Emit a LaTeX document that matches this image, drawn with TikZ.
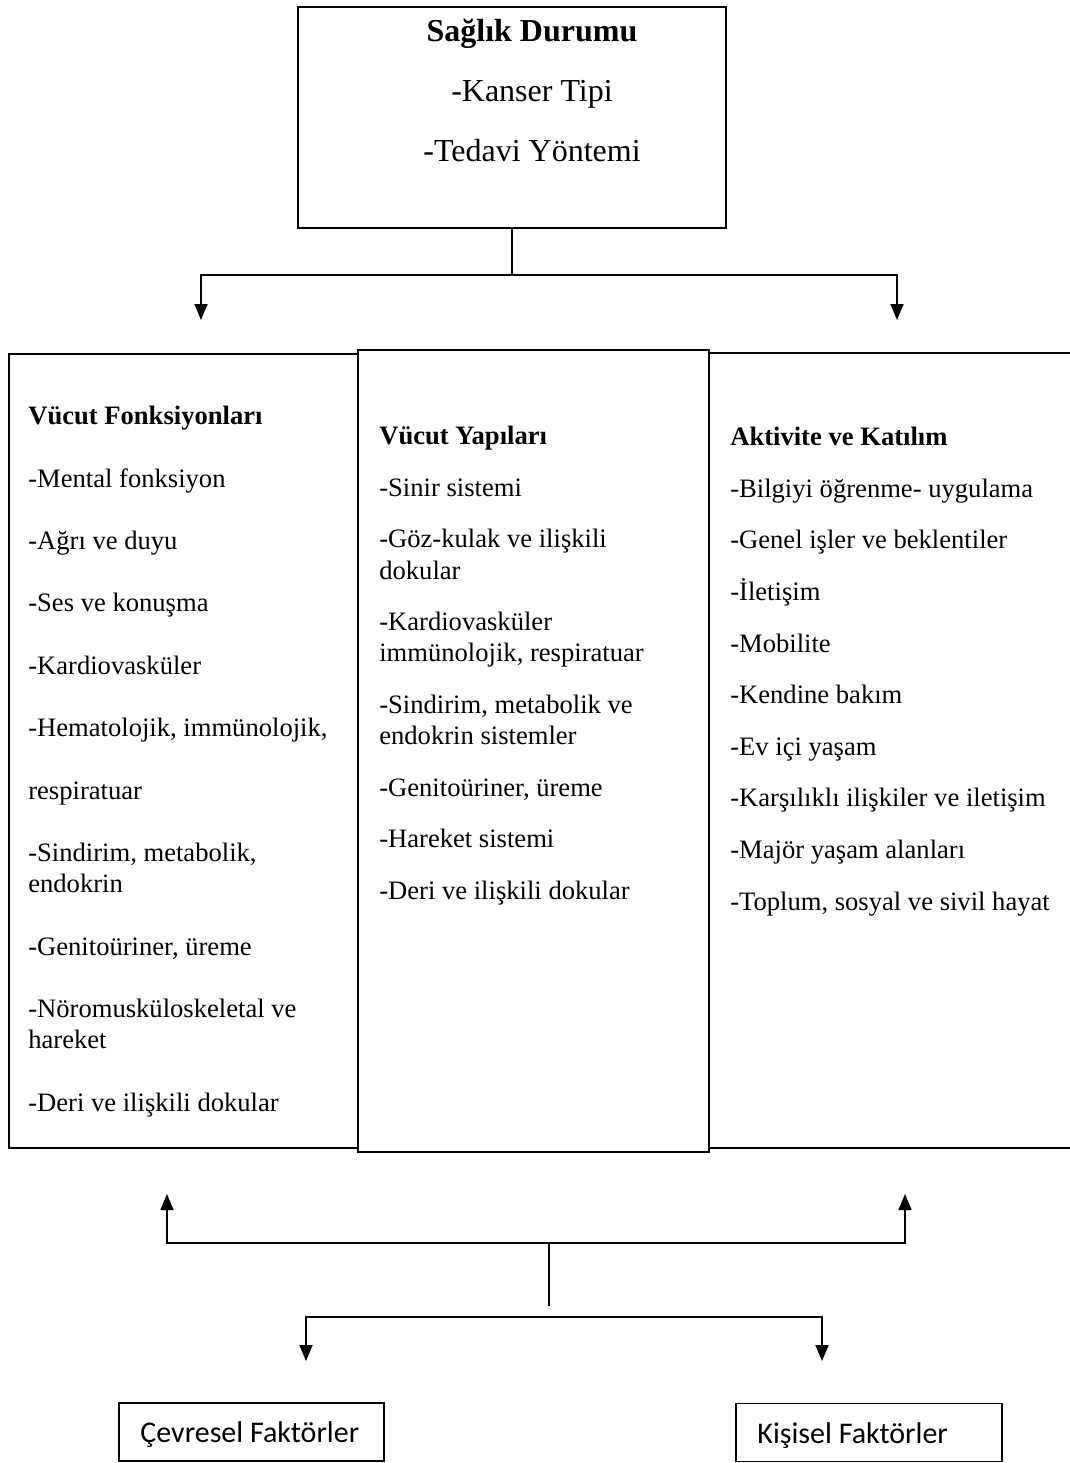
\documentclass[tikz,border=0pt]{standalone}
\usepackage{fontspec}
\setmainfont{Liberation Serif}
\newfontfamily\calibrifont{Carlito}
\usetikzlibrary{arrows.meta,positioning}

\tikzset{
  box/.style={draw, line width=0.8pt, inner sep=0pt},
  column/.style={draw, line width=1.1pt, inner sep=0pt},
  coltext/.style={inner sep=0pt, align=left, font=\fontsize{13.3}{15.6}\selectfont},
  factor/.style={inner sep=0pt, font=\calibrifont\fontsize{15}{18}\selectfont},
  link/.style={line width=0.8pt},
  flow/.style={link, -{Triangle[length=8pt,width=6.5pt]}},
}

\begin{document}
\begin{tikzpicture}[x=0.5pt, y=-0.5pt]
  \clip (0,0) rectangle (1070,1463);

  % health status on top
  \node[box, minimum width=214pt, minimum height=110.5pt] (health) at (512,117.5) {};
  \node[below=6pt of health.north, xshift=10pt, inner sep=0pt, align=center,
        font=\fontsize{16}{30}\selectfont] (healthtxt)
    {\textbf{Sağlık Durumu}\\-Kanser Tipi\\-Tedavi Yöntemi};

  % the three columns
  \node[column, minimum width=174.5pt, minimum height=397pt] (func) at (183.5,751) {};
  \node[column, minimum width=184.5pt, minimum height=397.5pt] (act) at (893.5,750.5) {};
  \node[column, minimum width=175.5pt, minimum height=401pt] (struct) at (533.5,751) {};

  \node[coltext, below right=26.5pt and 10pt of func.north west] (functxt)
    {\textbf{Vücut Fonksiyonları}\\[15.6pt]
     -Mental fonksiyon\\[15.6pt]
     -Ağrı ve duyu\\[15.6pt]
     -Ses ve konuşma\\[15.6pt]
     -Kardiovasküler\\[15.6pt]
     -Hematolojik, immünolojik,\\[15.6pt]
     respiratuar\\[15.6pt]
     -Sindirim, metabolik,\\
     endokrin\\[15.6pt]
     -Genitoüriner, üreme\\[15.6pt]
     -Nöromusküloskeletal ve\\
     hareket\\[15.6pt]
     -Deri ve ilişkili dokular};

  \node[coltext, below right=38.5pt and 11pt of struct.north west] (structtxt)
    {\textbf{Vücut Yapıları}\\[10.2pt]
     -Sinir sistemi\\[10.2pt]
     -Göz-kulak ve ilişkili\\
     dokular\\[10.2pt]
     -Kardiovasküler\\
     immünolojik, respiratuar\\[10.2pt]
     -Sindirim, metabolik ve\\
     endokrin sistemler\\[10.2pt]
     -Genitoüriner, üreme\\[10.2pt]
     -Hareket sistemi\\[10.2pt]
     -Deri ve ilişkili dokular};

  \node[coltext, below right=37.5pt and 11pt of act.north west] (acttxt)
    {\textbf{Aktivite ve Katılım}\\[10.2pt]
     -Bilgiyi öğrenme- uygulama\\[10.2pt]
     -Genel işler ve beklentiler\\[10.2pt]
     -İletişim\\[10.2pt]
     -Mobilite\\[10.2pt]
     -Kendine bakım\\[10.2pt]
     -Ev içi yaşam\\[10.2pt]
     -Karşılıklı ilişkiler ve iletişim\\[10.2pt]
     -Majör yaşam alanları\\[10.2pt]
     -Toplum, sosyal ve sivil hayat};

  % factors at the bottom
  \node[box, line width=0.9pt, minimum width=132.5pt, minimum height=29pt] (env) at (251.5,1432) {};
  \node[box, line width=0.9pt, minimum width=133pt, minimum height=29pt] (pers) at (869,1432.5) {};
  \node[factor, anchor=base west] (envtxt) at (140,1442) {Çevresel Faktörler};
  \node[factor, anchor=base west] (perstxt) at (757,1443) {Kişisel Faktörler};

  % connectors
  \coordinate (forkA) at (512,275);
  \coordinate (tipFunc) at (201,320);
  \coordinate (tipAct) at (897,320);
  \draw[link] (health.south) -- (forkA);
  \draw[flow] (forkA) -| (tipFunc);
  \draw[flow] (forkA) -| (tipAct);

  \coordinate (forkB) at (549,1243);
  \coordinate (stemB) at (549,1306);
  \coordinate (upFunc) at (167,1194);
  \coordinate (upAct) at (905,1194);
  \draw[link] (forkB) -- (stemB);
  \draw[flow] (forkB) -| (upFunc);
  \draw[flow] (forkB) -| (upAct);

  \coordinate (forkC) at (549,1317);
  \coordinate (tipEnv) at (306,1361);
  \coordinate (tipPers) at (822,1361);
  \draw[flow] (forkC) -| (tipEnv);
  \draw[flow] (forkC) -| (tipPers);
\end{tikzpicture}
\end{document}
